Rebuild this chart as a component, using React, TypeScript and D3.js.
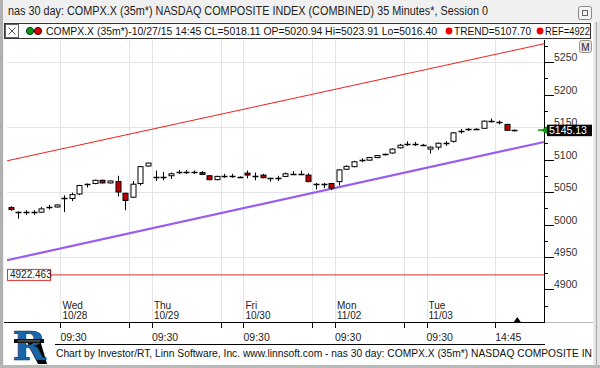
import * as d3 from 'd3';
import { useRef, useEffect } from 'react';

// 35-minute bars, 10/27 12:25 through 11/03 15:55
const opens = [5026, 5019, 5019, 5019, 5019, 5027, 5027, 5041, 5040, 5047, 5062, 5063, 5068, 5064, 5066, 5048, 5042, 5063, 5090, 5073, 5073, 5075, 5081, 5081, 5081, 5080, 5075, 5069, 5075, 5075, 5073, 5079, 5075, 5076, 5071, 5072, 5074, 5078, 5078, 5076, 5063, 5063, 5063, 5066, 5085, 5089, 5099, 5099, 5103, 5108, 5110, 5118, 5124, 5124, 5123, 5116, 5119, 5125, 5128, 5144, 5145, 5147, 5148, 5160, 5157, 5154, 5145];
const highs = [5028, 5020, 5022, 5022, 5027, 5030, 5031, 5045, 5049, 5061, 5063, 5069, 5069, 5068, 5075, 5049, 5067, 5090, 5095, 5083, 5081, 5080, 5084, 5084, 5083, 5082, 5076, 5075, 5078, 5078, 5074, 5083, 5080, 5078, 5072, 5075, 5080, 5082, 5083, 5079, 5064, 5064, 5064, 5085, 5091, 5098, 5102, 5104, 5107, 5109, 5117, 5124, 5128, 5127, 5124, 5120, 5126, 5128, 5142, 5147, 5148, 5148, 5160, 5163, 5160, 5155, 5146];
const lows = [5021, 5009, 5015, 5015, 5018, 5023, 5026, 5019, 5036, 5045, 5057, 5062, 5063, 5063, 5043, 5022, 5041, 5060, 5089, 5067, 5068, 5070, 5078, 5078, 5078, 5076, 5068, 5068, 5072, 5072, 5072, 5071, 5068, 5071, 5066, 5067, 5073, 5077, 5076, 5065, 5054, 5056, 5053, 5060, 5084, 5088, 5096, 5098, 5102, 5106, 5109, 5117, 5121, 5121, 5122, 5109, 5115, 5121, 5126, 5140, 5144, 5146, 5147, 5157, 5154, 5144, 5143];
const closes = [5023, 5019, 5019, 5019, 5024, 5027, 5030, 5041, 5046, 5060, 5062, 5068, 5064, 5067, 5050, 5037, 5062, 5089, 5094.5, 5073, 5073, 5078, 5081, 5081, 5081, 5077, 5069, 5074, 5075, 5075, 5073, 5076, 5075, 5072, 5071, 5072, 5078, 5078, 5078, 5066, 5063, 5063, 5056, 5084, 5089.5, 5096.5, 5099, 5103, 5106, 5108, 5116, 5122, 5124, 5124, 5123, 5119, 5125, 5125, 5141, 5144, 5147, 5147, 5159, 5160, 5157, 5145, 5145.13];

const dayNames = ['Wed', 'Thu', 'Fri', 'Mon', 'Tue'];
const dayDates = ['10/28', '10/29', '10/30', '11/02', '11/03'];
const dayStart = [7, 19, 31, 43, 55];
const midTicks = [16, 28, 40, 52, 64]; // 14:45 bars
const timeLabels = [
  { i: 7, t: '09:30' }, { i: 19, t: '09:30' }, { i: 31, t: '09:30' },
  { i: 43, t: '09:30' }, { i: 55, t: '09:30' }, { i: 64, t: '14:45' },
];
const yLabels = [4900, 4950, 5000, 5050, 5100, 5150, 5200, 5250];
const yMinor = [4875, 4925, 4975, 5025, 5075, 5125, 5175, 5225, 5275];
const yGrid = [4950, 5050, 5150, 5250];

const upperTrend = [[-0.5, 5098], [69.9, 5278]];
const lowerTrend = [[-0.5, 4945], [69.9, 5127]];
const refLevel = 4922.463;
const lastPrice = 5145.13;

const FONT = '"Liberation Sans", Arial, sans-serif';

export default function App() {
  const svgRef = useRef(null);

  useEffect(() => {
    const svg = d3.select(svgRef.current);
    svg.selectAll('*').remove();

    const W = 600, H = 368;
    const left = 7, right = 544, top = 40, bottom = 322;

    const x = d3.scaleLinear().domain([-0.5, 69.9]).range([left, right]);
    const y = d3.scaleLinear().domain([5000, 5250]).range([224.5, 62]);

    const txt = (g, tx, ty, s, size, fill = '#222') =>
      g.append('text').attr('x', tx).attr('y', ty)
        .style('font-family', FONT).style('font-size', `${size}px`).attr('fill', fill).text(s);

    // window chrome
    svg.append('rect').attr('width', W).attr('height', H).attr('fill', '#f0f0f0');
    svg.append('rect').attr('x', 0).attr('y', 0).attr('width', 3).attr('height', H).attr('fill', '#b0b0b0');
    svg.append('rect').attr('x', 4).attr('y', 22).attr('width', 589).attr('height', 343).attr('fill', '#fff');
    svg.append('rect').attr('x', 594).attr('y', 22).attr('width', 6).attr('height', 343).attr('fill', '#e4e4e4');
    svg.append('line').attr('x1', 596.5).attr('x2', 596.5).attr('y1', 22).attr('y2', 365).attr('stroke', '#a8a8a8');
    svg.append('rect').attr('x', 0).attr('y', 365).attr('width', W).attr('height', 3).attr('fill', '#b8b8b8');

    txt(svg, 8, 15, 'nas 30 day: COMPX.X (35m*) NASDAQ COMPOSITE INDEX (COMBINED) 35 Minutes*, Session 0', 12.5, '#222')
      .attr('textLength', 480).attr('lengthAdjust', 'spacingAndGlyphs');
    svg.append('rect').attr('x', 578.5).attr('y', 6.5).attr('width', 13).attr('height', 13).attr('rx', 2)
      .attr('fill', '#f4f4f4').attr('stroke', '#888');
    svg.append('rect').attr('x', 582.5).attr('y', 10.5).attr('width', 5).attr('height', 5)
      .attr('fill', 'none').attr('stroke', '#666');

    // header strip
    svg.append('rect').attr('x', 4.5).attr('y', 23.5).attr('width', 586).attr('height', 15)
      .attr('fill', '#fff').attr('stroke', '#333');
    svg.append('rect').attr('x', 5.5).attr('y', 24.5).attr('width', 13).attr('height', 13)
      .attr('fill', '#fff').attr('stroke', '#666');
    svg.append('path').attr('d', 'M8.5,27.5 L15.5,34.5 M15.5,27.5 L8.5,34.5').attr('stroke', '#555');
    svg.append('circle').attr('cx', 30).attr('cy', 31).attr('r', 3.6).attr('fill', '#0a9a0a').attr('stroke', '#034');
    svg.append('circle').attr('cx', 38).attr('cy', 31).attr('r', 3.6).attr('fill', '#d00').attr('stroke', '#400');
    txt(svg, 46, 35, 'COMPX.X (35m*)-10/27/15 14:45 CL=5018.11 OP=5020.94 Hi=5023.91 Lo=5016.40', 11.5, '#111')
      .attr('textLength', 391).attr('lengthAdjust', 'spacingAndGlyphs');
    svg.append('circle').attr('cx', 449).attr('cy', 31).attr('r', 3.4).attr('fill', '#e00');
    txt(svg, 454, 35, 'TREND=5107.70', 11.5, '#111').attr('textLength', 77).attr('lengthAdjust', 'spacingAndGlyphs');
    svg.append('circle').attr('cx', 540).attr('cy', 31).attr('r', 3.4).attr('fill', '#e00');
    txt(svg, 545, 35, 'REF=4922', 11.5, '#111').attr('textLength', 45).attr('lengthAdjust', 'spacingAndGlyphs');

    // grid
    const grid = svg.append('g').attr('stroke', '#e4e4e4').attr('stroke-width', 1);
    [...dayStart, ...midTicks].forEach(i => {
      const gx = Math.round(x(i - 0.5)) + 0.5;
      grid.append('line').attr('x1', gx).attr('x2', gx).attr('y1', top).attr('y2', bottom);
    });
    yGrid.forEach(v => {
      const gy = Math.round(y(v)) + 0.5;
      grid.append('line').attr('x1', left).attr('x2', right).attr('y1', gy).attr('y2', gy);
    });

    // ref level
    svg.append('line').attr('x1', left).attr('x2', right)
      .attr('y1', y(refLevel)).attr('y2', y(refLevel)).attr('stroke', '#e03030').attr('stroke-width', 1);
    svg.append('rect').attr('x', 7.5).attr('y', y(refLevel) - 5.5).attr('width', 43).attr('height', 11)
      .attr('fill', '#fff').attr('stroke', '#e03030');
    txt(svg, 10, y(refLevel) + 3.5, refLevel.toFixed(3), 10, '#222');

    // trend channel
    const line = d3.line().x(d => x(d[0])).y(d => y(d[1]));
    svg.append('path').attr('d', line(upperTrend)).attr('stroke', '#ee2020').attr('stroke-width', 1).attr('fill', 'none');
    svg.append('path').attr('d', line(lowerTrend)).attr('stroke', '#9a5cf0').attr('stroke-width', 2.2).attr('fill', 'none');

    // candles
    const bw = 5;
    const cg = svg.append('g');
    opens.forEach((o, i) => {
      const c = closes[i];
      const cx = Math.round(x(i)) + 0.5;
      cg.append('line').attr('x1', cx).attr('x2', cx).attr('y1', y(highs[i])).attr('y2', y(lows[i]))
        .attr('stroke', '#000');
      const yTop = y(Math.max(o, c)), yBot = y(Math.min(o, c));
      if (yBot - yTop < 1.5) {
        cg.append('line').attr('x1', cx - bw / 2 - 0.5).attr('x2', cx + bw / 2 + 0.5)
          .attr('y1', Math.round(y(c)) + 0.5).attr('y2', Math.round(y(c)) + 0.5)
          .attr('stroke', '#000').attr('stroke-width', 1.5);
      } else {
        cg.append('rect').attr('x', cx - bw / 2).attr('y', yTop).attr('width', bw).attr('height', yBot - yTop)
          .attr('fill', c < o ? '#c00000' : '#fff').attr('stroke', '#000').attr('stroke-width', 1);
      }
    });

    // right price axis
    svg.append('line').attr('x1', right + 0.5).attr('x2', right + 0.5).attr('y1', top).attr('y2', bottom)
      .attr('stroke', '#000');
    yMinor.forEach(v => {
      const ty = Math.round(y(v)) + 0.5;
      svg.append('line').attr('x1', right).attr('x2', right + 4).attr('y1', ty).attr('y2', ty).attr('stroke', '#000');
    });
    yLabels.forEach(v => {
      const ty = Math.round(y(v)) + 0.5;
      svg.append('line').attr('x1', right).attr('x2', right + 10).attr('y1', ty).attr('y2', ty).attr('stroke', '#000');
      txt(svg, 554, ty - 1.5, String(v), 10.5, '#333');
    });

    // last price marker
    const ly = y(lastPrice);
    svg.append('line').attr('x1', 538).attr('x2', 546).attr('y1', ly).attr('y2', ly).attr('stroke', '#0a9a0a').attr('stroke-width', 1.5);
    svg.append('path').attr('d', `M541,${ly} L548,${ly - 4.5} L548,${ly + 4.5} Z`).attr('fill', '#0a9a0a');
    svg.append('rect').attr('x', 547).attr('y', ly - 5.5).attr('width', 45).attr('height', 11.5).attr('fill', '#000');
    txt(svg, 549, ly + 4, lastPrice.toFixed(2), 10.5, '#fff');

    // M button
    svg.append('rect').attr('x', 579.5).attr('y', 40.5).attr('width', 12).attr('height', 12).attr('rx', 2)
      .attr('fill', '#ece6d8').attr('stroke', '#998');
    txt(svg, 585.5, 50.5, 'M', 10, '#224').attr('text-anchor', 'middle');

    // day labels inside plot
    dayStart.forEach((i, k) => {
      const tx = x(i - 0.5) + 2;
      txt(svg, tx, 308.5, dayNames[k], 10, '#222');
      txt(svg, tx, 319, dayDates[k], 10, '#222');
    });

    // time axis
    svg.append('line').attr('x1', 4).attr('x2', right + 1).attr('y1', bottom + 0.5).attr('y2', bottom + 0.5)
      .attr('stroke', '#000');
    svg.append('line').attr('x1', right + 1).attr('x2', 593).attr('y1', bottom + 0.5).attr('y2', bottom + 0.5)
      .attr('stroke', '#bbb');
    [...dayStart, ...midTicks].forEach(i => {
      const tx = Math.round(x(i - 0.5)) + 0.5;
      svg.append('line').attr('x1', tx).attr('x2', tx).attr('y1', bottom).attr('y2', bottom + 6).attr('stroke', '#000');
    });
    timeLabels.forEach(d => {
      txt(svg, x(d.i - 0.5), 341, d.t, 10.5, '#222');
    });
    const last = x(opens.length - 1);
    svg.append('path').attr('d', `M${last + 3},${bottom - 5} L${last + 6.5},${bottom} L${last - 0.5},${bottom} Z`).attr('fill', '#000');
    svg.append('line').attr('x1', 55).attr('x2', right + 1).attr('y1', 344.5).attr('y2', 344.5).attr('stroke', '#000');

    // footer
    svg.append('defs').append('clipPath').attr('id', 'foot')
      .append('rect').attr('x', 0).attr('y', 340).attr('width', 592).attr('height', 25);
    txt(svg, 56, 357, 'Chart by Investor/RT, Linn Software, Inc. www.linnsoft.com - nas 30 day: COMPX.X (35m*) NASDAQ COMPOSITE IN', 11.5, '#111')
      .attr('textLength', 536).attr('lengthAdjust', 'spacingAndGlyphs');

    // logo
    const logo = svg.append('g');
    logo.append('path').attr('d', 'M26,340 L40,340 L47,364 L38,364 Z').attr('fill', '#000');
    logo.append('text').attr('x', 29).attr('y', 360).attr('text-anchor', 'middle')
      .style('font-family', '"DejaVu Serif", serif').style('font-size', '40px').style('font-weight', 'bold')
      .attr('fill', '#1a66a8').attr('stroke', '#0b2c4a').attr('stroke-width', 0.6).text('R');
    logo.append('rect').attr('x', 14).attr('y', 339).attr('width', 30).attr('height', 4).attr('fill', '#111');
    logo.append('rect').attr('x', 18).attr('y', 340.5).attr('width', 22).attr('height', 1).attr('fill', '#777');
  }, []);

  return (
    <div style={{ position: 'absolute', left: 0, top: 0 }}>
      <svg ref={svgRef} width={600} height={368} style={{ display: 'block' }}></svg>
    </div>
  );
}
